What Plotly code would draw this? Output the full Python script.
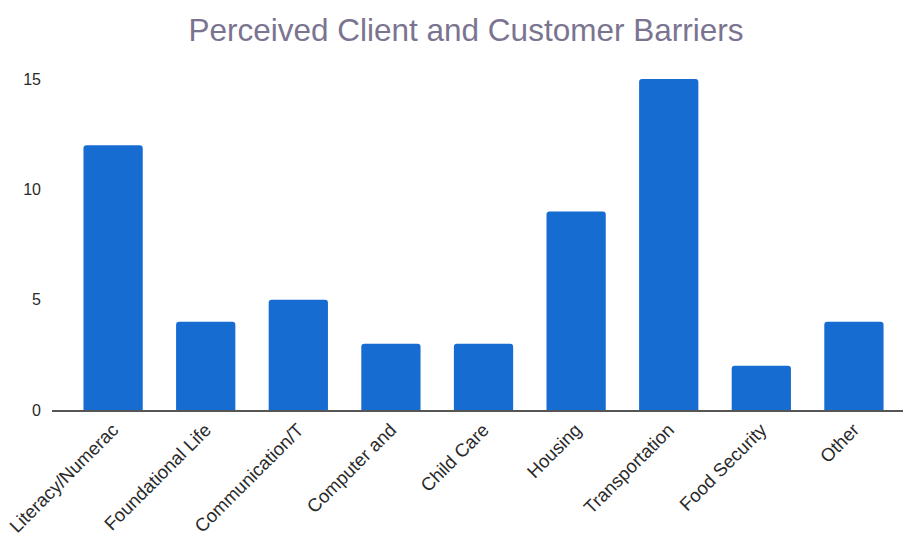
import plotly.graph_objects as go

# Survey responses: perceived barriers for clients and customers
categories = [
    "Literacy/Numerac",
    "Foundational Life",
    "Communication/T",
    "Computer and",
    "Child Care",
    "Housing",
    "Transportation",
    "Food Security",
    "Other",
]
counts = [12, 4, 5, 3, 3, 9, 15, 2, 4]
y_ticks = [0, 5, 10, 15]

BAR_BLUE = "#176cd2"
TEXT_DARK = "#2a2a2a"

fig = go.Figure(
    go.Bar(
        x=categories,
        y=counts,
        marker=dict(color=BAR_BLUE, line=dict(width=0)),
        hoverinfo="x+y",
    )
)

fig.update_layout(
    width=903,
    height=537,
    paper_bgcolor="white",
    plot_bgcolor="white",
    margin=dict(l=52, r=0, t=79, b=125),
    bargap=0.36,
    barcornerradius=3,
    showlegend=False,
    title=dict(
        text="Perceived Client and Customer Barriers",
        x=0.516,
        xanchor="center",
        y=0.945,
        yanchor="middle",
        font=dict(family="Liberation Sans, Arial, sans-serif", size=31.5, color="#7a7490"),
    ),
    font=dict(family="Liberation Sans, Arial, sans-serif", color=TEXT_DARK),
)

fig.update_xaxes(
    type="category",
    range=[-0.66, 8.53],
    tickangle=-45,
    tickfont=dict(size=18.5, color=TEXT_DARK),
    showgrid=False,
    showline=True,
    linecolor="#555555",
    linewidth=1.5,
    ticks="",
    zeroline=False,
)

fig.update_yaxes(
    range=[0, 15],
    tickvals=y_ticks,
    ticktext=[str(v) for v in y_ticks],
    tickfont=dict(size=16, color=TEXT_DARK),
    showgrid=False,
    zeroline=False,
    showline=False,
    ticks="",
    ticklabelstandoff=10,
)

fig.write_html("out.html")
